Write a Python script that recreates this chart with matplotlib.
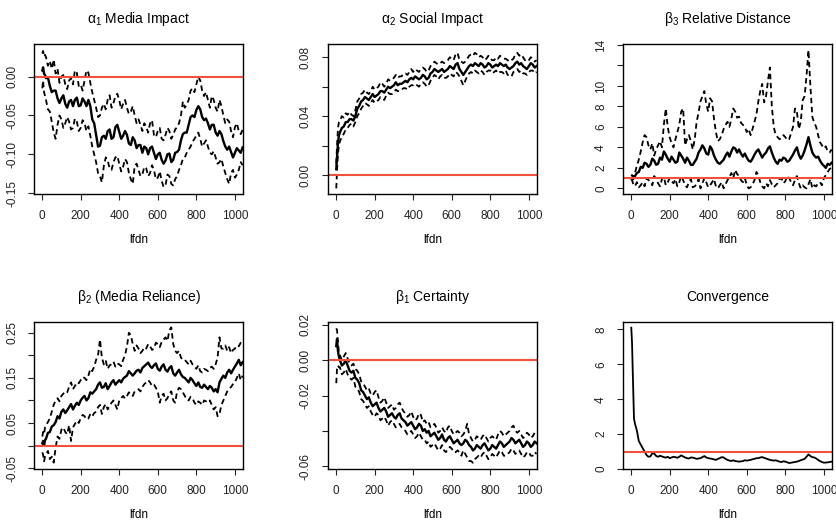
"""
trace plots of the estimated parameters over lfdn (mean with dashed bands)
"""
import numpy as np
import matplotlib
matplotlib.use('Agg')
import matplotlib.pyplot as plt

plt.rcParams['font.family'] = ['Liberation Sans', 'DejaVu Sans']
plt.rcParams['mathtext.default'] = 'regular'
plt.rcParams['axes.unicode_minus'] = False

# x positions: a few early steps, then every 10
lfdn = [1, 5, 10, 15] + list(range(20, 1041, 10))

# alpha1 media impact (rows of 10 start at lfdn 20, 120, 220, ...)
a1_mid = [0.008, 0.012, 0.004, 0.002,
	-0.002, -0.001, -0.012, -0.020, -0.018, -0.018, -0.028, -0.034, -0.028, -0.024,
	-0.035, -0.040, -0.032, -0.030, -0.038, -0.030, -0.027, -0.038, -0.037, -0.028,
	-0.032, -0.038, -0.030, -0.038, -0.055, -0.060, -0.075, -0.090, -0.089, -0.078,
	-0.076, -0.080, -0.070, -0.068, -0.080, -0.078, -0.065, -0.062, -0.071, -0.080,
	-0.076, -0.070, -0.075, -0.086, -0.088, -0.078, -0.082, -0.092, -0.088, -0.088,
	-0.098, -0.090, -0.092, -0.100, -0.092, -0.090, -0.098, -0.106, -0.100, -0.098,
	-0.107, -0.112, -0.108, -0.100, -0.099, -0.110, -0.107, -0.098, -0.097, -0.094,
	-0.082, -0.074, -0.072, -0.072, -0.062, -0.052, -0.050, -0.052, -0.043, -0.038,
	-0.042, -0.052, -0.056, -0.054, -0.060, -0.068, -0.062, -0.062, -0.072, -0.076,
	-0.070, -0.074, -0.083, -0.090, -0.094, -0.090, -0.097, -0.104, -0.098, -0.092,
	-0.095, -0.098, -0.091]
a1_up = [0.030, 0.033, 0.026, 0.028,
	0.025, 0.014, 0.020, 0.010, 0.022, 0.004, 0.010, -0.008, 0.000, 0.002,
	-0.010, -0.016, -0.005, -0.002, -0.010, 0.008, 0.005, -0.012, -0.010, -0.018,
	-0.005, 0.008, 0.005, -0.008, -0.020, -0.030, -0.040, -0.052, -0.050, -0.040,
	-0.035, -0.042, -0.030, -0.024, -0.040, -0.034, -0.025, -0.022, -0.030, -0.042,
	-0.035, -0.030, -0.040, -0.048, -0.045, -0.038, -0.050, -0.060, -0.055, -0.062,
	-0.070, -0.060, -0.065, -0.072, -0.060, -0.056, -0.075, -0.078, -0.070, -0.066,
	-0.080, -0.082, -0.075, -0.066, -0.070, -0.080, -0.075, -0.068, -0.065, -0.060,
	-0.050, -0.032, -0.040, -0.036, -0.030, -0.018, -0.015, -0.020, -0.010, 0.000,
	-0.005, -0.018, -0.025, -0.020, -0.030, -0.040, -0.025, -0.030, -0.040, -0.045,
	-0.030, -0.038, -0.050, -0.060, -0.055, -0.058, -0.070, -0.078, -0.065, -0.060,
	-0.070, -0.074, -0.068]
a1_low = [-0.015, -0.005, -0.020, -0.025,
	-0.030, -0.042, -0.045, -0.058, -0.072, -0.080, -0.062, -0.050, -0.055, -0.066,
	-0.060, -0.052, -0.058, -0.068, -0.066, -0.054, -0.058, -0.070, -0.066, -0.056,
	-0.060, -0.070, -0.064, -0.076, -0.090, -0.100, -0.110, -0.124, -0.128, -0.136,
	-0.115, -0.104, -0.108, -0.118, -0.120, -0.110, -0.104, -0.102, -0.112, -0.122,
	-0.116, -0.106, -0.110, -0.124, -0.132, -0.138, -0.115, -0.112, -0.120, -0.128,
	-0.126, -0.116, -0.118, -0.128, -0.124, -0.114, -0.120, -0.132, -0.130, -0.122,
	-0.134, -0.142, -0.140, -0.126, -0.128, -0.138, -0.140, -0.132, -0.128, -0.120,
	-0.114, -0.106, -0.104, -0.098, -0.094, -0.090, -0.084, -0.080, -0.076, -0.072,
	-0.080, -0.090, -0.086, -0.082, -0.090, -0.098, -0.100, -0.096, -0.104, -0.112,
	-0.110, -0.106, -0.116, -0.124, -0.132, -0.138, -0.124, -0.120, -0.130, -0.126,
	-0.120, -0.110, -0.114]

# alpha2 social impact
a2_mid = [0.004, 0.012, 0.022, 0.027,
	0.029, 0.032, 0.033, 0.036, 0.036, 0.038, 0.038, 0.037, 0.040, 0.045,
	0.047, 0.050, 0.051, 0.053, 0.052, 0.051, 0.053, 0.055, 0.053, 0.054,
	0.055, 0.057, 0.057, 0.056, 0.058, 0.060, 0.059, 0.060, 0.061, 0.063,
	0.061, 0.062, 0.062, 0.063, 0.064, 0.063, 0.065, 0.066, 0.065, 0.067,
	0.066, 0.065, 0.066, 0.068, 0.067, 0.065, 0.066, 0.069, 0.070, 0.072,
	0.071, 0.070, 0.071, 0.072, 0.070, 0.071, 0.072, 0.074, 0.073, 0.072,
	0.075, 0.076, 0.072, 0.070, 0.068, 0.070, 0.072, 0.074, 0.075, 0.074,
	0.076, 0.075, 0.074, 0.076, 0.075, 0.073, 0.074, 0.076, 0.075, 0.073,
	0.074, 0.075, 0.074, 0.076, 0.075, 0.074, 0.075, 0.073, 0.072, 0.073,
	0.074, 0.076, 0.077, 0.075, 0.076, 0.074, 0.073, 0.072, 0.074, 0.076,
	0.075, 0.073, 0.074]
a2_up = [0.008, 0.020, 0.032, 0.036,
	0.037, 0.040, 0.039, 0.042, 0.041, 0.043, 0.041, 0.040, 0.044, 0.050,
	0.052, 0.055, 0.056, 0.058, 0.056, 0.055, 0.057, 0.060, 0.058, 0.059,
	0.060, 0.063, 0.062, 0.060, 0.062, 0.065, 0.064, 0.065, 0.066, 0.068,
	0.066, 0.067, 0.067, 0.069, 0.069, 0.068, 0.070, 0.072, 0.070, 0.072,
	0.071, 0.070, 0.072, 0.073, 0.072, 0.070, 0.071, 0.074, 0.075, 0.077,
	0.076, 0.075, 0.076, 0.077, 0.076, 0.077, 0.078, 0.080, 0.079, 0.078,
	0.082, 0.083, 0.078, 0.077, 0.076, 0.077, 0.079, 0.081, 0.082, 0.081,
	0.083, 0.082, 0.080, 0.081, 0.080, 0.078, 0.079, 0.081, 0.079, 0.078,
	0.078, 0.080, 0.079, 0.081, 0.080, 0.079, 0.079, 0.078, 0.077, 0.078,
	0.079, 0.082, 0.083, 0.081, 0.082, 0.080, 0.078, 0.077, 0.078, 0.080,
	0.079, 0.077, 0.078]
a2_low = [-0.009, 0.003, 0.015, 0.020,
	0.023, 0.026, 0.028, 0.031, 0.032, 0.034, 0.035, 0.033, 0.036, 0.040,
	0.042, 0.045, 0.047, 0.049, 0.048, 0.047, 0.049, 0.051, 0.049, 0.050,
	0.051, 0.053, 0.052, 0.051, 0.054, 0.056, 0.055, 0.055, 0.056, 0.058,
	0.057, 0.057, 0.058, 0.059, 0.059, 0.058, 0.060, 0.061, 0.061, 0.062,
	0.061, 0.060, 0.062, 0.063, 0.062, 0.060, 0.061, 0.064, 0.066, 0.068,
	0.067, 0.065, 0.067, 0.068, 0.066, 0.066, 0.067, 0.069, 0.068, 0.067,
	0.070, 0.069, 0.067, 0.064, 0.061, 0.064, 0.067, 0.069, 0.070, 0.069,
	0.071, 0.070, 0.069, 0.071, 0.070, 0.068, 0.070, 0.071, 0.071, 0.069,
	0.070, 0.071, 0.069, 0.070, 0.070, 0.069, 0.071, 0.068, 0.068, 0.067,
	0.070, 0.071, 0.072, 0.070, 0.071, 0.069, 0.069, 0.068, 0.070, 0.071,
	0.071, 0.069, 0.070]

# beta3 relative distance
b3_mid = [1.0, 1.0, 0.9, 1.1,
	1.2, 1.5, 1.6, 2.1, 2.0, 2.5, 2.4, 2.1, 2.3, 2.9,
	2.7, 2.3, 2.4, 3.0, 2.8, 3.6, 3.3, 2.9, 2.6, 3.1,
	2.8, 2.5, 2.6, 3.5, 3.2, 2.9, 2.5, 3.0, 2.7, 2.3,
	2.3, 2.6, 2.9, 3.5, 3.8, 4.2, 3.9, 3.4, 3.3, 4.1,
	3.8, 3.2, 2.8, 2.5, 2.4, 2.6, 2.8, 3.2, 3.5, 3.1,
	3.6, 4.0, 3.9, 3.5, 3.8, 3.4, 3.1, 3.4, 3.0, 2.7,
	2.6, 2.9, 3.3, 3.6, 3.8, 3.4, 3.0, 3.3, 3.5, 3.9,
	4.1, 3.5, 3.0, 2.6, 2.4, 2.8, 2.7, 3.0, 2.9, 2.6,
	2.7, 3.0, 3.3, 3.7, 4.0, 3.3, 2.9, 3.2, 3.7, 4.3,
	5.0, 4.2, 3.5, 3.2, 3.0, 3.1, 2.7, 2.4, 2.2, 2.0,
	2.4, 2.3, 2.5]
b3_up = [1.2, 1.3, 1.1, 1.4,
	1.5, 2.2, 2.8, 3.6, 4.5, 5.2, 5.0, 4.2, 3.8, 4.4,
	3.2, 3.8, 4.2, 4.6, 4.0, 6.2, 7.8, 6.0, 5.0, 4.4,
	4.0, 4.8, 5.5, 6.2, 7.5, 7.8, 4.2, 4.8, 5.2, 4.6,
	3.8, 4.8, 6.5, 7.4, 8.5, 9.0, 9.5, 8.2, 7.5, 8.8,
	8.5, 6.8, 5.5, 4.6, 4.8, 5.2, 5.8, 6.2, 6.5, 6.0,
	6.8, 7.8, 7.5, 6.9, 7.0, 6.4, 6.2, 6.0, 5.5, 5.8,
	5.2, 5.8, 6.5, 7.2, 8.5, 9.5, 10.2, 8.4, 9.0, 10.5,
	11.8, 8.0, 6.0, 5.2, 5.0, 4.8, 4.9, 5.2, 5.0, 4.7,
	4.8, 5.4, 6.0, 7.8, 7.5, 5.8, 6.5, 8.6, 9.0, 11.0,
	13.5, 10.0, 7.0, 6.4, 6.0, 5.2, 4.5, 4.2, 3.9, 4.1,
	3.6, 3.5, 3.8]
b3_low = [0.9, 0.8, 0.5, 0.3,
	0.2, 0.6, 0.1, 0.3, 0.6, 0.2, 1.0, 0.8, 0.7, 0.3,
	1.2, 0.9, 0.5, 0.2, 0.9, 1.1, 0.3, 0.6, 1.0, 0.7,
	0.5, 0.9, 0.2, 0.6, 1.2, 0.8, 0.3, 0.1, 0.6, 0.9,
	0.1, 0.2, 0.4, 0.9, 0.0, 0.5, 1.0, 0.6, 0.1, 0.3,
	0.6, 0.9, 0.2, 0.0, 0.3, 0.6, 0.0, 0.4, 0.8, 1.1,
	1.5, 1.0, 1.8, 1.4, 1.2, 0.8, 0.6, 1.0, 0.3, 0.0,
	0.1, 0.4, 0.8, 1.6, 1.3, 0.6, 0.2, 0.0, 0.5, 0.2,
	0.8, 0.4, 0.1, 0.3, 0.5, 0.9, 1.0, 0.5, 0.7, 1.2,
	1.0, 0.6, 0.3, 0.8, 1.2, 0.5, 0.0, 0.3, 0.1, 0.0,
	0.4, 0.9, 0.0, 0.3, 0.2, 0.5, 0.6, 0.3, 1.0, 1.3,
	1.6, 1.9, 2.0]

# beta2 media reliance
b2_mid = [0.005, 0.010, 0.000, 0.012,
	0.015, 0.028, 0.030, 0.042, 0.045, 0.052, 0.065, 0.060, 0.075, 0.080,
	0.072, 0.078, 0.085, 0.092, 0.080, 0.088, 0.095, 0.090, 0.100, 0.106,
	0.110, 0.100, 0.105, 0.118, 0.115, 0.120, 0.125, 0.135, 0.140, 0.128,
	0.130, 0.138, 0.125, 0.132, 0.140, 0.145, 0.135, 0.140, 0.145, 0.140,
	0.148, 0.152, 0.155, 0.165, 0.160, 0.155, 0.160, 0.166, 0.168, 0.162,
	0.172, 0.176, 0.180, 0.184, 0.176, 0.172, 0.178, 0.182, 0.170, 0.166,
	0.175, 0.180, 0.168, 0.164, 0.172, 0.176, 0.160, 0.155, 0.162, 0.168,
	0.158, 0.152, 0.150, 0.145, 0.140, 0.150, 0.145, 0.138, 0.132, 0.140,
	0.130, 0.128, 0.135, 0.130, 0.125, 0.132, 0.128, 0.120, 0.125, 0.118,
	0.140, 0.148, 0.155, 0.150, 0.162, 0.168, 0.160, 0.168, 0.175, 0.182,
	0.190, 0.178, 0.185]
b2_up = [0.020, 0.030, 0.025, 0.040,
	0.045, 0.052, 0.060, 0.075, 0.090, 0.100, 0.105, 0.098, 0.110, 0.115,
	0.120, 0.118, 0.130, 0.140, 0.125, 0.132, 0.140, 0.138, 0.145, 0.152,
	0.150, 0.145, 0.155, 0.170, 0.165, 0.175, 0.190, 0.200, 0.235, 0.195,
	0.180, 0.188, 0.170, 0.178, 0.180, 0.186, 0.175, 0.182, 0.180, 0.176,
	0.190, 0.200, 0.220, 0.250, 0.245, 0.225, 0.210, 0.222, 0.215, 0.205,
	0.210, 0.218, 0.215, 0.225, 0.220, 0.212, 0.215, 0.228, 0.225, 0.218,
	0.230, 0.235, 0.240, 0.232, 0.255, 0.262, 0.225, 0.210, 0.205, 0.210,
	0.195, 0.190, 0.190, 0.185, 0.180, 0.188, 0.180, 0.175, 0.170, 0.178,
	0.165, 0.162, 0.170, 0.168, 0.165, 0.172, 0.175, 0.170, 0.180, 0.195,
	0.240, 0.215, 0.215, 0.222, 0.210, 0.218, 0.205, 0.212, 0.215, 0.222,
	0.220, 0.228, 0.235]
b2_low = [-0.015, -0.020, -0.035, -0.025,
	-0.020, -0.012, -0.030, -0.025, -0.038, -0.005, 0.020, 0.015, 0.035, 0.040,
	0.030, 0.025, 0.045, 0.010, 0.040, 0.048, 0.055, 0.050, 0.060, 0.068,
	0.065, 0.058, 0.060, 0.070, 0.065, 0.072, 0.075, 0.085, 0.090, 0.070,
	0.085, 0.092, 0.080, 0.088, 0.095, 0.100, 0.090, 0.080, 0.100, 0.105,
	0.110, 0.104, 0.110, 0.118, 0.115, 0.110, 0.120, 0.122, 0.125, 0.120,
	0.130, 0.136, 0.140, 0.145, 0.140, 0.132, 0.135, 0.128, 0.120, 0.095,
	0.110, 0.115, 0.100, 0.105, 0.115, 0.120, 0.100, 0.095, 0.120, 0.128,
	0.125, 0.118, 0.110, 0.102, 0.100, 0.108, 0.105, 0.095, 0.090, 0.098,
	0.095, 0.090, 0.100, 0.098, 0.095, 0.100, 0.090, 0.080, 0.085, 0.065,
	0.070, 0.090, 0.100, 0.110, 0.120, 0.125, 0.130, 0.136, 0.140, 0.150,
	0.160, 0.145, 0.155]

# beta1 certainty
b1_mid = [0.008, 0.012, 0.005, 0.002,
	0.000, -0.003, -0.002, 0.000, -0.003, -0.006, -0.007, -0.006, -0.010, -0.011,
	-0.013, -0.017, -0.018, -0.020, -0.022, -0.021, -0.024, -0.026, -0.025, -0.024,
	-0.027, -0.029, -0.028, -0.027, -0.029, -0.032, -0.031, -0.030, -0.032, -0.033,
	-0.031, -0.030, -0.033, -0.034, -0.035, -0.037, -0.036, -0.035, -0.037, -0.039,
	-0.038, -0.036, -0.037, -0.040, -0.039, -0.041, -0.040, -0.043, -0.042, -0.041,
	-0.043, -0.045, -0.044, -0.042, -0.045, -0.046, -0.044, -0.043, -0.045, -0.047,
	-0.046, -0.045, -0.047, -0.048, -0.047, -0.045, -0.046, -0.048, -0.049, -0.051,
	-0.050, -0.048, -0.049, -0.050, -0.048, -0.047, -0.049, -0.051, -0.050, -0.048,
	-0.049, -0.050, -0.048, -0.046, -0.047, -0.049, -0.048, -0.047, -0.046, -0.044,
	-0.045, -0.047, -0.046, -0.045, -0.047, -0.049, -0.048, -0.046, -0.047, -0.049,
	-0.048, -0.046, -0.047]
b1_up = [0.018, 0.017, 0.010, 0.004,
	0.003, 0.000, 0.002, 0.004, 0.001, -0.002, -0.003, -0.002, -0.005, -0.006,
	-0.008, -0.012, -0.013, -0.015, -0.017, -0.016, -0.019, -0.020, -0.018, -0.017,
	-0.021, -0.024, -0.023, -0.021, -0.024, -0.027, -0.026, -0.025, -0.028, -0.027,
	-0.025, -0.024, -0.027, -0.029, -0.030, -0.032, -0.031, -0.029, -0.032, -0.034,
	-0.033, -0.030, -0.031, -0.035, -0.034, -0.036, -0.035, -0.038, -0.037, -0.036,
	-0.038, -0.041, -0.040, -0.038, -0.040, -0.041, -0.038, -0.037, -0.040, -0.042,
	-0.041, -0.040, -0.041, -0.043, -0.042, -0.040, -0.036, -0.042, -0.044, -0.046,
	-0.045, -0.043, -0.044, -0.045, -0.043, -0.042, -0.044, -0.046, -0.044, -0.043,
	-0.044, -0.045, -0.042, -0.040, -0.041, -0.043, -0.042, -0.041, -0.040, -0.038,
	-0.037, -0.040, -0.041, -0.040, -0.042, -0.044, -0.043, -0.041, -0.042, -0.044,
	-0.043, -0.041, -0.041]
b1_low = [-0.013, -0.005, -0.003, -0.004,
	-0.004, -0.008, -0.007, -0.005, -0.008, -0.010, -0.011, -0.010, -0.015, -0.016,
	-0.018, -0.022, -0.023, -0.025, -0.027, -0.026, -0.029, -0.031, -0.032, -0.030,
	-0.031, -0.034, -0.033, -0.032, -0.034, -0.037, -0.035, -0.034, -0.036, -0.038,
	-0.037, -0.036, -0.038, -0.039, -0.040, -0.042, -0.041, -0.040, -0.042, -0.044,
	-0.043, -0.041, -0.043, -0.045, -0.045, -0.047, -0.046, -0.049, -0.048, -0.047,
	-0.049, -0.051, -0.050, -0.048, -0.051, -0.052, -0.050, -0.049, -0.050, -0.052,
	-0.052, -0.051, -0.052, -0.054, -0.051, -0.053, -0.055, -0.057, -0.057, -0.058,
	-0.056, -0.055, -0.054, -0.055, -0.053, -0.052, -0.054, -0.056, -0.055, -0.053,
	-0.054, -0.055, -0.053, -0.051, -0.052, -0.054, -0.054, -0.053, -0.052, -0.050,
	-0.051, -0.053, -0.052, -0.051, -0.053, -0.055, -0.054, -0.052, -0.052, -0.054,
	-0.054, -0.052, -0.053]

# convergence
conv = [8.1, 7.2, 5.0, 2.9,
	2.6, 2.2, 1.6, 1.4, 1.2, 1.0, 0.8, 0.7, 0.72, 0.9,
	0.88, 0.75, 0.70, 0.76, 0.72, 0.68, 0.65, 0.70, 0.62, 0.66,
	0.70, 0.68, 0.64, 0.70, 0.78, 0.72, 0.66, 0.62, 0.60, 0.66,
	0.65, 0.62, 0.58, 0.60, 0.62, 0.68, 0.74, 0.66, 0.62, 0.60,
	0.58, 0.55, 0.52, 0.58, 0.62, 0.68, 0.66, 0.58, 0.52, 0.48,
	0.46, 0.50, 0.45, 0.44, 0.42, 0.44, 0.45, 0.50, 0.48, 0.50,
	0.52, 0.56, 0.58, 0.62, 0.62, 0.66, 0.68, 0.64, 0.60, 0.56,
	0.52, 0.50, 0.48, 0.50, 0.46, 0.42, 0.40, 0.44, 0.42, 0.38,
	0.34, 0.36, 0.38, 0.40, 0.42, 0.46, 0.50, 0.54, 0.58, 0.70,
	0.84, 0.74, 0.68, 0.66, 0.60, 0.52, 0.45, 0.40, 0.36, 0.37,
	0.38, 0.40, 0.42]

RED = '#f0503c'
XT = [0, 200, 400, 600, 800, 1000]


def styleAxes(ax, title, yticks, ylabels, ylim):
	ax.set_xlim(-42, 1042)
	ax.set_ylim(ylim)
	ax.set_xticks(XT)
	ax.set_xticklabels([str(t) for t in XT])
	ax.set_yticks(yticks)
	ax.set_yticklabels(ylabels, rotation=90, va='center')
	ax.tick_params(direction='out', length=4.5, width=0.8, pad=7, labelsize=8.5, colors='#222222')
	for s in ax.spines.values():
		s.set_linewidth(1.0)
	ax.set_title(title, fontsize=10, pad=15)
	ax.set_xlabel('lfdn', fontsize=8.5, labelpad=9)


def bandPanel(ax, mid, low, up, ref, title, yticks, ylabels, ylim):
	ax.plot(lfdn, mid, color='black', lw=1.7)
	ax.plot(lfdn, up, color='black', lw=1.3, ls=(0, (3, 2)))
	ax.plot(lfdn, low, color='black', lw=1.3, ls=(0, (3, 2)))
	ax.axhline(ref, color=RED, lw=1.5)
	styleAxes(ax, title, yticks, ylabels, ylim)


fig = plt.figure(figsize=(8.36, 5.26), dpi=100)
cols = [0.0407, 0.3923, 0.7452]
w = 0.250
top_b, top_h = 0.6312, 0.2852
bot_b, bot_h = 0.1084, 0.2795
axs = [fig.add_axes([c, top_b, w, top_h]) for c in cols] + [fig.add_axes([c, bot_b, w, bot_h]) for c in cols]

bandPanel(axs[0], a1_mid, a1_low, a1_up, 0.0, r'$\alpha_1$ Media Impact',
	[0.0, -0.05, -0.10, -0.15], ['0.00', '-0.05', '-0.10', '-0.15'], (-0.151, 0.042))
bandPanel(axs[1], a2_mid, a2_low, a2_up, 0.0, r'$\alpha_2$ Social Impact',
	[0.0, 0.02, 0.04, 0.06, 0.08], ['0.00', '', '0.04', '', '0.08'], (-0.0128, 0.089))
bandPanel(axs[2], b3_mid, b3_low, b3_up, 1.0, r'$\beta_3$ Relative Distance',
	[0, 2, 4, 6, 8, 10, 12, 14], ['0', '2', '4', '6', '8', '10', '', '14'], (-0.55, 14.1))
bandPanel(axs[3], b2_mid, b2_low, b2_up, 0.0, r'$\beta_2$ (Media Reliance)',
	[-0.05, 0.0, 0.05, 0.10, 0.15, 0.20, 0.25], ['-0.05', '', '0.05', '', '0.15', '', '0.25'], (-0.052, 0.274))
bandPanel(axs[4], b1_mid, b1_low, b1_up, 0.0, r'$\beta_1$ Certainty',
	[-0.06, -0.04, -0.02, 0.0, 0.02], ['-0.06', '', '-0.02', '0.00', '0.02'], (-0.0615, 0.0216))

ax = axs[5]
ax.plot(lfdn, conv, color='black', lw=1.3)
ax.axhline(1.0, color=RED, lw=1.5)
styleAxes(ax, 'Convergence', [0, 2, 4, 6, 8], ['0', '2', '4', '6', '8'], (0.0, 8.43))

fig.savefig('out.png', dpi=100)
